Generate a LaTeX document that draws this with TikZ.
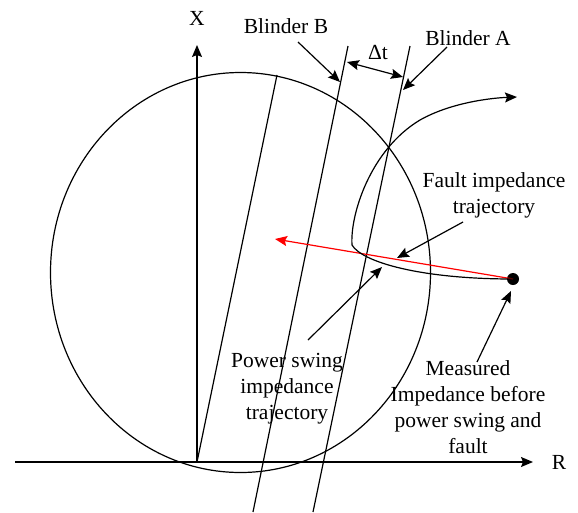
\documentclass[tikz,border=0pt]{standalone}
\usepackage{fontspec}
\setmainfont{Liberation Serif}
\usetikzlibrary{arrows.meta}
\tikzset{
  ln/.style={line width=1.2pt,black},                              % plain line
  arr/.style={ln,-{Stealth[length=12pt,width=10pt,inset=2pt]}},   % pointer / axis
  darr/.style={ln,{Stealth[length=12pt,width=10pt,inset=2pt]}-{Stealth[length=12pt,width=10pt,inset=2pt]}},
  swing/.style={line width=1.2pt,red,-{Stealth[length=12pt,width=10pt,inset=2pt]}},
  lbl/.style={inner sep=0pt,align=center,font=\fontsize{21.5}{26}\selectfont},
  pt/.style={circle,fill=black,inner sep=0pt,minimum size=12pt},
}

\begin{document}
\begin{tikzpicture}[x=1pt,y=-1pt]
  \useasboundingbox (0,0) rectangle (578,512);
  % axes
  \coordinate (O) at (197,462);
  \coordinate (rs) at (15,462);
  \coordinate (re) at (533,462);
  \coordinate (xe) at (197,45);
  \draw[arr] (rs) -- (re);
  \draw[arr] (O) -- (xe);
  \node[lbl] (xl) at (197,18) {X};
  \node[lbl] (rl) at (559,462) {R};
  % mho circle and its diameter
  \draw[ln] (240.5,272.5) ellipse [x radius=190,y radius=200];
  \coordinate (top) at (277,75);
  \draw[ln] (O) -- (top);
  % blinders
  \coordinate (bb1) at (348,46);  \coordinate (bb2) at (253,512);
  \coordinate (ba1) at (410,46);  \coordinate (ba2) at (313,512);
  \draw[ln] (bb1) -- (bb2);
  \draw[ln] (ba1) -- (ba2);
  \coordinate (dt1) at (347,62);  \coordinate (dt2) at (403,77);
  \draw[darr] (dt1) -- (dt2);
  \node[lbl] (dt) at (378,53) {Δt};
  \node[lbl] (blb) at (286,26) {Blinder B};
  \node[lbl] (bla) at (468,38) {Blinder A};
  \coordinate (blbs) at (298,42);  \coordinate (blbt) at (340,82);
  \coordinate (blas) at (447,47);  \coordinate (blat) at (403,90);
  \draw[arr] (blbs) -- (blbt);
  \draw[arr] (blas) -- (blat);
  % impedance trajectories
  \node[pt] (z0) at (513,279) {};
  \coordinate (pse) at (275,239);
  \draw[swing] (z0.center) -- (pse);
  \coordinate (fe) at (517,97);
  \draw[arr] (z0.center) .. controls (420,279) and (362,262) .. (352,245)
    .. controls (350,215) and (370,150) .. (420,120)
    .. controls (450,103) and (490,98) .. (fe);
  % labels
  \node[lbl] (flt) at (494,195) {Fault impedance\\trajectory};
  \coordinate (flts) at (463,222);  \coordinate (fltt) at (397,258);
  \draw[arr] (flts) -- (fltt);
  \node[lbl] (psw) at (287,389) {Power swing\\impedance\\trajectory};
  \coordinate (psws) at (308,340);  \coordinate (pswt) at (382,267);
  \draw[arr] (psws) -- (pswt);
  \node[lbl] (meas) at (468,407) {Measured\\Impedance before\\power swing and\\fault};
  \coordinate (meass) at (477,362);  \coordinate (meast) at (511,291);
  \draw[arr] (meass) -- (meast);
\end{tikzpicture}
\end{document}
